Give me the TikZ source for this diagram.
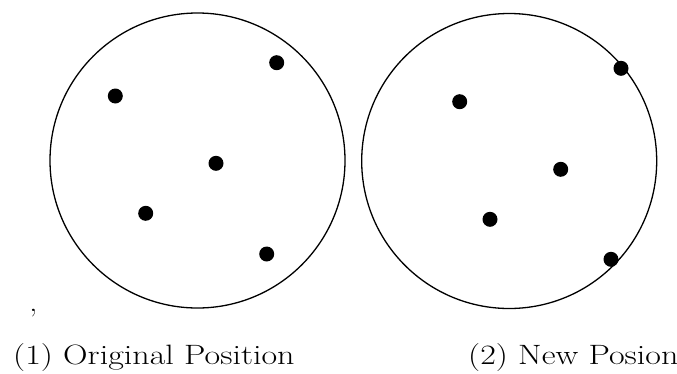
\documentclass[tikz,border=0pt]{standalone}
\begin{document}
\begin{tikzpicture}[x=1pt,y=-1pt,
  ring/.style={draw=black,line width=1.3pt},
  dot/.style={circle,fill=black,inner sep=0pt,minimum size=15pt},
  lbl/.style={inner sep=0pt,anchor=base west,font=\fontsize{28}{33}\selectfont,xscale=1.215}]
\useasboundingbox (0,0) rectangle (677,373);
\draw[ring] (197.5,160.5) circle[radius=147.5];
\draw[ring] (509.2,161) circle[radius=147.5];
\node[dot] (a1) at (115.3,96) {};
\node[dot] (a2) at (276.7,62.7) {};
\node[dot] (a3) at (216,163.3) {};
\node[dot] (a4) at (145.7,213.3) {};
\node[dot] (a5) at (266.7,254) {};
\node[dot] (b1) at (459.7,101.7) {};
\node[dot] (b2) at (621,68.3) {};
\node[dot] (b3) at (560.7,169.3) {};
\node[dot] (b4) at (490,219.3) {};
\node[dot] (b5) at (611,259.3) {};
\node[lbl] (comma) at (29,311) {,};
\node[lbl] (l1) at (13,364.5) {(1) Original Position};
\node[lbl] (l2) at (468,364.5) {(2) New Posion};
\end{tikzpicture}
\end{document}
